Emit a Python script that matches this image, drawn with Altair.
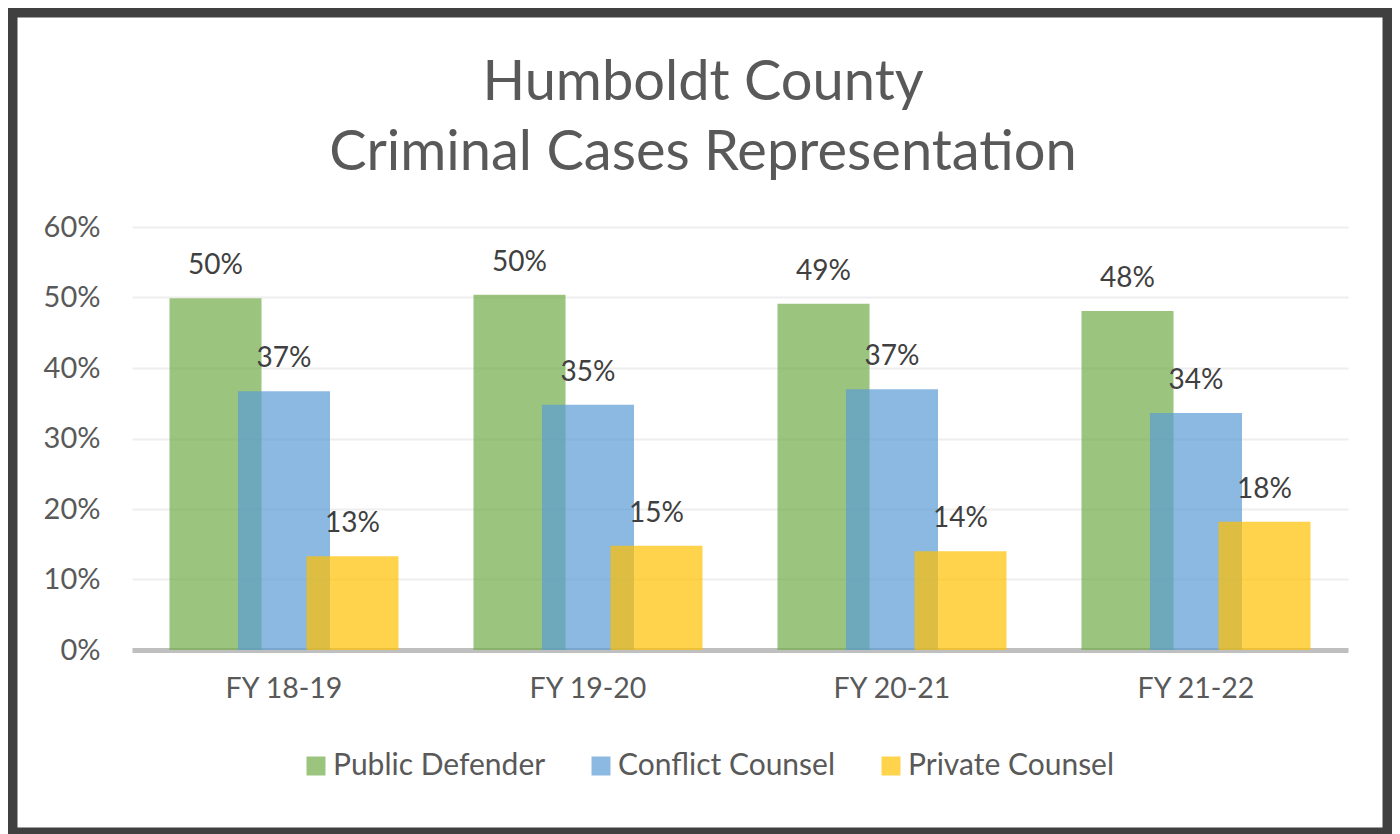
import altair as alt
import pandas as pd

years = ["FY 18-19", "FY 19-20", "FY 20-21", "FY 21-22"]
series = ["Public Defender", "Conflict Counsel", "Private Counsel"]
public_defender = [0.499, 0.504, 0.491, 0.481]
conflict_counsel = [0.367, 0.348, 0.370, 0.336]
private_counsel = [0.133, 0.148, 0.140, 0.182]
base_colors = ["#70AD47", "#5B9BD5", "#FFC000"]
y_ticks = [0, 0.1, 0.2, 0.3, 0.4, 0.5, 0.6]
title_lines = ["Humboldt County", "Criminal Cases Representation"]

rows = []
for s, vals in zip(series, [public_defender, conflict_counsel, private_counsel]):
    for y, v in zip(years, vals):
        rows.append({"year": y, "series": s, "value": v})
df = pd.DataFrame(rows)

FONT = "Lato"
W, H = 1216, 423
offsets = [-68.5, 0, 68.5]

x_enc = alt.X("year:N", sort=years,
              scale=alt.Scale(domain=years, paddingInner=0, paddingOuter=0),
              axis=alt.Axis(title=None, labelAngle=0, labelFont=FONT, labelFontSize=28.5,
                            labelColor="#595959", labelPadding=24, ticks=False,
                            domainColor="#BFBFBF", domainWidth=5, grid=False))
y_enc = alt.Y("value:Q", scale=alt.Scale(domain=[0, 0.6], nice=False),
              axis=alt.Axis(title=None, values=y_ticks, format=".0%", labelFont=FONT,
                            labelFontSize=29, labelColor="#595959", labelPadding=32,
                            ticks=False, domain=False, gridColor="#EEEEEE", gridWidth=2))
color_enc = alt.Color("series:N", sort=series,
                      scale=alt.Scale(domain=series, range=base_colors),
                      legend=alt.Legend(orient="none", legendX=169, legendY=524,
                                        direction="horizontal", title=None,
                                        symbolType="square", symbolSize=361,
                                        symbolOpacity=0.7, symbolStrokeWidth=0,
                                        labelFont=FONT, labelFontSize=30,
                                        labelColor="#595959", columnPadding=40,
                                        labelLimit=0, padding=0, labelOffset=2))

one = pd.DataFrame({"a": [0]})
border = alt.Chart(one).mark_rect(filled=False, stroke="#404040", strokeWidth=11).encode(
    x=alt.value(-120), x2=alt.value(1256), y=alt.value(-215), y2=alt.value(606))

title1 = alt.Chart(one).mark_text(text=title_lines[0], font=FONT, fontSize=56,
                                  color="#595959", align="center", baseline="alphabetic").encode(
    x=alt.value(571), y=alt.value(-127))
title2 = alt.Chart(one).mark_text(text=title_lines[1], font=FONT, fontSize=56,
                                  color="#595959", align="center", baseline="alphabetic").encode(
    x=alt.value(571), y=alt.value(-57))

layers = []
for i, s in enumerate(series):
    layers.append(
        alt.Chart(df).transform_filter(alt.datum.series == s)
        .mark_bar(width=92, xOffset=offsets[i], opacity=0.7)
        .encode(x=x_enc, y=y_enc, color=color_enc)
    )
for i, s in enumerate(series):
    layers.append(
        alt.Chart(df).transform_filter(alt.datum.series == s)
        .mark_text(xOffset=offsets[i], dy=-24, baseline="alphabetic", font=FONT,
                   fontSize=28, color="#404040")
        .encode(x=x_enc, y=y_enc, text=alt.Text("value:Q", format=".0%"))
    )
layers += [title1, title2, border]

chart = alt.layer(*layers).properties(
    width=W, height=H,
    autosize=alt.AutoSizeParams(type="none"),
    padding={"left": 124, "top": 219, "right": 44, "bottom": 184},
    background="white",
).configure_view(stroke=None)

chart.save("out.html", embed_options={"renderer": "svg", "actions": False})
